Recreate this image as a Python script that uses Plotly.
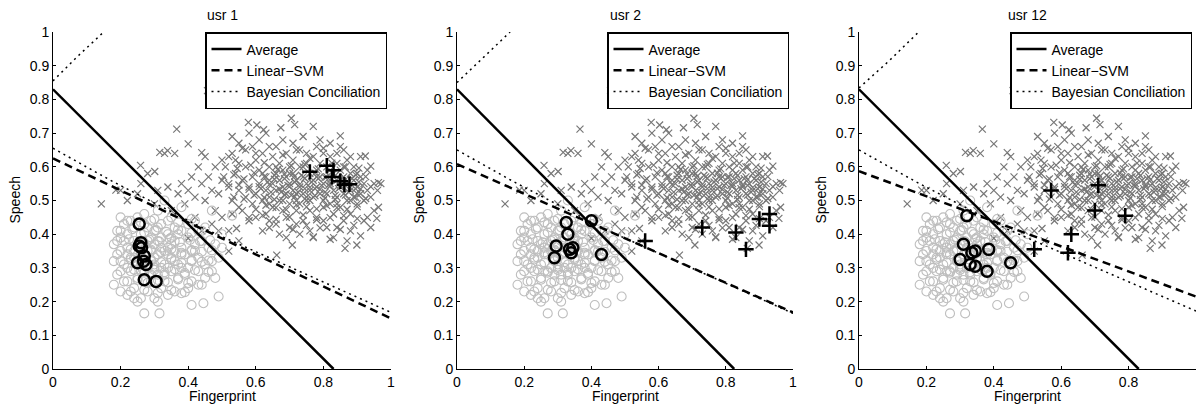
import plotly.graph_objects as go

# ---------------- data ----------------
users = ["usr 1", "usr 2", "usr 12"]

# impostor cloud (gray x) shared by all panels
imp_x = [0.457, 0.756, 0.793, 0.366, 0.578, 0.603, 0.623, 0.674, 0.705, 0.715, 0.77, 0.143, 0.259, 0.301,
         0.316, 0.339, 0.4, 0.44, 0.186, 0.958, 0.963, 0.963, 0.899, 0.864, 0.708, 0.662, 0.77, 0.543, 0.4,
         0.85, 0.924,
         0.36, 0.33, 0.34, 0.37, 0.38, 0.39, 0.4, 0.41, 0.42, 0.43, 0.44, 0.45, 0.46, 0.47, 0.48, 0.45, 0.48,
         0.49, 0.5, 0.5, 0.5, 0.31, 0.28, 0.26, 0.2, 0.22, 0.25, 0.3, 0.35, 0.42, 0.44, 0.47, 0.52, 0.55, 0.52,
         0.49, 0.53, 0.55, 0.58, 0.53,
         0.52, 0.53, 0.54, 0.55, 0.55, 0.56, 0.56, 0.57, 0.57, 0.58, 0.58, 0.59, 0.59, 0.6, 0.6, 0.6, 0.53,
         0.54, 0.57, 0.59,
         0.61, 0.61, 0.62, 0.62, 0.63, 0.63, 0.63, 0.64, 0.64, 0.65, 0.65, 0.65, 0.66, 0.66, 0.66, 0.67, 0.67,
         0.67, 0.68, 0.68, 0.68, 0.69, 0.69, 0.69, 0.7, 0.7, 0.7, 0.62, 0.64, 0.66, 0.68, 0.7, 0.61, 0.63,
         0.67, 0.69,
         0.71, 0.71, 0.71, 0.72, 0.72, 0.72, 0.73, 0.73, 0.73, 0.74, 0.74, 0.74, 0.75, 0.75, 0.75, 0.76, 0.76,
         0.76, 0.77, 0.77, 0.77, 0.78, 0.78, 0.78, 0.79, 0.79, 0.79, 0.8, 0.8, 0.8, 0.71, 0.74, 0.76, 0.78,
         0.72, 0.77, 0.75, 0.73, 0.8, 0.79,
         0.81, 0.81, 0.81, 0.82, 0.82, 0.82, 0.83, 0.83, 0.83, 0.84, 0.84, 0.84, 0.85, 0.85, 0.85, 0.86, 0.86,
         0.86, 0.87, 0.87, 0.87, 0.88, 0.88, 0.88, 0.89, 0.89, 0.89, 0.9, 0.9, 0.9, 0.82, 0.84, 0.86, 0.88,
         0.83, 0.85, 0.87, 0.81,
         0.91, 0.91, 0.92, 0.92, 0.92, 0.93, 0.93, 0.94, 0.95, 0.95, 0.96, 0.97, 0.91, 0.93, 0.94,
         0.615, 0.635, 0.645, 0.655, 0.675, 0.685, 0.695, 0.705, 0.715, 0.725, 0.735, 0.745, 0.755, 0.765,
         0.775, 0.785, 0.795, 0.805, 0.815, 0.825, 0.835, 0.845, 0.855, 0.865, 0.875, 0.885, 0.895, 0.905,
         0.62, 0.66, 0.7, 0.74, 0.78, 0.82, 0.86, 0.9, 0.64, 0.68, 0.72, 0.76, 0.8, 0.84, 0.88,
         0.52, 0.56, 0.6, 0.64, 0.68, 0.72, 0.76, 0.8, 0.84, 0.88,
         0.51, 0.545, 0.585, 0.625, 0.665, 0.705, 0.745, 0.785, 0.825, 0.865, 0.905, 0.94,
         0.505, 0.535, 0.565, 0.595, 0.625, 0.655, 0.685, 0.715, 0.745, 0.775, 0.805, 0.835, 0.865, 0.895, 0.925,
         0.52, 0.55, 0.58, 0.61, 0.64, 0.67, 0.7, 0.73, 0.76, 0.79, 0.82, 0.85, 0.88, 0.91, 0.94,
         0.535, 0.565, 0.595, 0.625, 0.655, 0.685, 0.715, 0.745, 0.775, 0.805, 0.835, 0.865, 0.895, 0.925,
         0.55, 0.6, 0.63, 0.66, 0.69, 0.72, 0.75, 0.78, 0.81, 0.84, 0.87, 0.9,
         0.58, 0.62, 0.66, 0.7, 0.74, 0.78, 0.82, 0.86, 0.9,
         0.64, 0.71, 0.75, 0.79, 0.85, 0.89,
         0.69, 0.73, 0.82, 0.91]
imp_y = [0.826, 0.826, 0.794, 0.712, 0.732, 0.724, 0.71, 0.716, 0.744, 0.725, 0.72, 0.49, 0.604, 0.586,
         0.643, 0.648, 0.668, 0.642, 0.531, 0.447, 0.48, 0.553, 0.368, 0.358, 0.368, 0.338, 0.392, 0.417, 0.388,
         0.692, 0.632,
         0.64, 0.64, 0.54, 0.52, 0.55, 0.49, 0.53, 0.57, 0.51, 0.6, 0.55, 0.5, 0.57, 0.53, 0.6, 0.63, 0.47,
         0.52, 0.56, 0.62, 0.45, 0.53, 0.58, 0.55, 0.53, 0.5, 0.52, 0.49, 0.47, 0.45, 0.41, 0.43, 0.35, 0.38,
         0.41, 0.41, 0.64, 0.67, 0.7, 0.69,
         0.55, 0.5, 0.58, 0.53, 0.61, 0.47, 0.56, 0.51, 0.6, 0.54, 0.44, 0.57, 0.49, 0.62, 0.52, 0.45, 0.46,
         0.62, 0.65, 0.66,
         0.55, 0.59, 0.5, 0.64, 0.53, 0.57, 0.46, 0.6, 0.51, 0.55, 0.48, 0.63, 0.58, 0.53, 0.43, 0.56, 0.5,
         0.61, 0.54, 0.47, 0.59, 0.52, 0.57, 0.64, 0.49, 0.55, 0.6, 0.41, 0.44, 0.66, 0.68, 0.42, 0.68, 0.7,
         0.4, 0.45,
         0.53, 0.58, 0.62, 0.5, 0.56, 0.47, 0.54, 0.6, 0.65, 0.52, 0.57, 0.44, 0.55, 0.5, 0.61, 0.53, 0.58,
         0.47, 0.56, 0.51, 0.63, 0.54, 0.59, 0.45, 0.52, 0.57, 0.61, 0.55, 0.5, 0.64, 0.67, 0.69, 0.41, 0.66,
         0.43, 0.39, 0.64, 0.49, 0.44, 0.68,
         0.57, 0.52, 0.6, 0.55, 0.49, 0.63, 0.53, 0.58, 0.46, 0.56, 0.51, 0.61, 0.54, 0.59, 0.48, 0.52, 0.57,
         0.44, 0.55, 0.5, 0.62, 0.53, 0.58, 0.46, 0.56, 0.51, 0.6, 0.54, 0.49, 0.58, 0.67, 0.42, 0.65, 0.41,
         0.39, 0.66, 0.38, 0.42,
         0.52, 0.57, 0.55, 0.5, 0.44, 0.53, 0.59, 0.51, 0.55, 0.47, 0.53, 0.55, 0.63, 0.45, 0.42,
         0.535, 0.555, 0.525, 0.575, 0.525, 0.565, 0.545, 0.515, 0.555, 0.525, 0.575, 0.535, 0.515, 0.555,
         0.535, 0.565, 0.545, 0.525, 0.545, 0.565, 0.515, 0.535, 0.565, 0.545, 0.525, 0.565, 0.535, 0.555,
         0.58, 0.6, 0.58, 0.6, 0.57, 0.59, 0.6, 0.52, 0.49, 0.5, 0.52, 0.5, 0.48, 0.49, 0.5,
         0.63, 0.655, 0.64, 0.66, 0.635, 0.65, 0.625, 0.655, 0.64, 0.63,
         0.6, 0.595, 0.605, 0.612, 0.592, 0.603, 0.607, 0.594, 0.611, 0.6, 0.596, 0.602,
         0.57, 0.576, 0.564, 0.582, 0.571, 0.563, 0.579, 0.572, 0.566, 0.581, 0.569, 0.574, 0.562, 0.577, 0.571,
         0.54, 0.546, 0.533, 0.541, 0.547, 0.534, 0.542, 0.548, 0.539, 0.533, 0.543, 0.546, 0.538, 0.534, 0.541,
         0.51, 0.504, 0.516, 0.509, 0.503, 0.517, 0.511, 0.505, 0.514, 0.508, 0.503, 0.516, 0.51, 0.506,
         0.48, 0.474, 0.486, 0.479, 0.473, 0.487, 0.481, 0.475, 0.485, 0.479, 0.474, 0.482,
         0.45, 0.456, 0.444, 0.451, 0.457, 0.443, 0.449, 0.455, 0.446,
         0.42, 0.414, 0.426, 0.419, 0.414, 0.426,
         0.39, 0.4, 0.385, 0.395]

# genuine cloud (light gray circles) shared by all panels
gen_x = [0.2, 0.23, 0.27, 0.31, 0.35, 0.38, 0.33, 0.42, 0.29, 0.25,
         0.19, 0.21, 0.24, 0.26, 0.28, 0.3, 0.32, 0.34, 0.36, 0.38, 0.4, 0.43, 0.45, 0.22,
         0.18, 0.2, 0.22, 0.24, 0.26, 0.28, 0.3, 0.32, 0.34, 0.36, 0.38, 0.4, 0.42, 0.44, 0.46, 0.48, 0.21,
         0.29, 0.35, 0.41,
         0.18, 0.19, 0.21, 0.23, 0.25, 0.27, 0.29, 0.31, 0.33, 0.35, 0.37, 0.39, 0.41, 0.43, 0.45, 0.47, 0.49,
         0.24, 0.32, 0.36,
         0.19, 0.21, 0.23, 0.25, 0.27, 0.29, 0.31, 0.33, 0.35, 0.37, 0.39, 0.41, 0.43, 0.45, 0.47, 0.22, 0.3,
         0.38,
         0.2, 0.22, 0.24, 0.26, 0.28, 0.3, 0.32, 0.34, 0.36, 0.38, 0.4, 0.43, 0.25, 0.31, 0.18, 0.24,
         0.27, 0.315, 0.41, 0.445, 0.49, 0.53, 0.47, 0.5, 0.5, 0.48, 0.44,
         0.26, 0.28, 0.3, 0.32, 0.34, 0.27, 0.31, 0.33, 0.29, 0.35, 0.3, 0.28, 0.26, 0.34, 0.36, 0.38, 0.24,
         0.22, 0.33, 0.29, 0.37, 0.31, 0.27, 0.25, 0.4, 0.42,
         0.22, 0.26, 0.3, 0.34, 0.37, 0.41,
         0.2, 0.235, 0.27, 0.305, 0.335, 0.37, 0.41, 0.44,
         0.19, 0.225, 0.255, 0.285, 0.315, 0.345, 0.375, 0.405, 0.435, 0.465,
         0.2, 0.23, 0.26, 0.29, 0.32, 0.35, 0.38, 0.41, 0.44, 0.47,
         0.2, 0.23, 0.26, 0.29, 0.32, 0.35, 0.38, 0.41, 0.44, 0.46,
         0.2, 0.24, 0.27, 0.3, 0.33, 0.36, 0.39, 0.42, 0.46,
         0.22, 0.25, 0.28, 0.31, 0.34, 0.37, 0.4,
         0.23, 0.27, 0.31, 0.35, 0.39]
gen_y = [0.45, 0.44, 0.46, 0.47, 0.45, 0.48, 0.5, 0.44, 0.44, 0.45,
         0.41, 0.43, 0.42, 0.4, 0.42, 0.41, 0.43, 0.4, 0.42, 0.41, 0.43, 0.41, 0.42, 0.4,
         0.37, 0.39, 0.36, 0.38, 0.36, 0.38, 0.37, 0.39, 0.36, 0.38, 0.36, 0.39, 0.37, 0.38, 0.36, 0.37, 0.38,
         0.35, 0.39, 0.35,
         0.32, 0.34, 0.31, 0.33, 0.31, 0.34, 0.32, 0.34, 0.31, 0.33, 0.31, 0.34, 0.32, 0.33, 0.31, 0.32, 0.33,
         0.35, 0.3, 0.35,
         0.28, 0.26, 0.29, 0.27, 0.29, 0.26, 0.28, 0.26, 0.29, 0.27, 0.28, 0.26, 0.29, 0.27, 0.29, 0.3, 0.3,
         0.3,
         0.23, 0.22, 0.24, 0.21, 0.23, 0.21, 0.24, 0.22, 0.23, 0.225, 0.24, 0.25, 0.2, 0.2, 0.25, 0.21,
         0.165, 0.165, 0.19, 0.195, 0.215, 0.455, 0.47, 0.4, 0.36, 0.27, 0.25,
         0.34, 0.35, 0.33, 0.36, 0.34, 0.37, 0.38, 0.35, 0.39, 0.37, 0.31, 0.3, 0.29, 0.3, 0.32, 0.34, 0.33,
         0.34, 0.28, 0.28, 0.4, 0.42, 0.43, 0.37, 0.3, 0.35,
         0.44, 0.435, 0.445, 0.44, 0.435, 0.445,
         0.41, 0.415, 0.405, 0.412, 0.407, 0.414, 0.404, 0.41,
         0.38, 0.385, 0.376, 0.384, 0.378, 0.386, 0.377, 0.383, 0.379, 0.382,
         0.35, 0.355, 0.346, 0.354, 0.347, 0.356, 0.345, 0.353, 0.348, 0.352,
         0.32, 0.325, 0.316, 0.324, 0.317, 0.326, 0.315, 0.323, 0.318, 0.322,
         0.29, 0.295, 0.286, 0.294, 0.287, 0.296, 0.285, 0.293, 0.288,
         0.26, 0.265, 0.256, 0.264, 0.257, 0.266, 0.255,
         0.23, 0.235, 0.226, 0.234, 0.228]

# per-user test samples
user_circ_x = [[0.255, 0.26, 0.255, 0.262, 0.27, 0.25, 0.268, 0.275, 0.27, 0.305],
               [0.325, 0.4, 0.33, 0.295, 0.335, 0.345, 0.34, 0.29, 0.43],
               [0.32, 0.31, 0.335, 0.345, 0.3, 0.33, 0.345, 0.385, 0.38, 0.45]]
user_circ_y = [[0.43, 0.375, 0.365, 0.36, 0.335, 0.315, 0.32, 0.31, 0.265, 0.26],
               [0.435, 0.44, 0.4, 0.365, 0.355, 0.36, 0.345, 0.33, 0.34],
               [0.455, 0.37, 0.345, 0.35, 0.325, 0.31, 0.305, 0.355, 0.29, 0.315]]
user_plus_x = [[0.76, 0.81, 0.83, 0.825, 0.85, 0.862, 0.877],
               [0.56, 0.73, 0.83, 0.86, 0.9, 0.93, 0.93],
               [0.57, 0.71, 0.70, 0.79, 0.63, 0.52, 0.62]]
user_plus_y = [[0.585, 0.603, 0.59, 0.57, 0.557, 0.547, 0.548],
               [0.38, 0.42, 0.405, 0.355, 0.445, 0.46, 0.425],
               [0.53, 0.545, 0.47, 0.455, 0.4, 0.355, 0.345]]

# decision boundaries
avg_x = [[0, 0.83], [0, 0.825], [0, 0.83]]
avg_y = [[0.83, 0], [0.83, 0], [0.83, 0]]
svm_x = [[0, 1], [0, 1], [0, 1]]
svm_y = [[0.625, 0.15], [0.608, 0.168], [0.587, 0.215]]
bay_lo_x = [[0, 0.17, 0.44, 1.0], [0, 0.17, 0.44, 1.0], [0, 0.17, 0.44, 1.0]]
bay_lo_y = [[0.655, 0.56, 0.42, 0.168], [0.65, 0.555, 0.415, 0.165], [0.65, 0.555, 0.415, 0.172]]
bay_hi_x = [[0, 0.07, 0.15], [0, 0.08, 0.158], [0, 0.09, 0.177]]
bay_hi_y = [[0.855, 0.925, 1.0], [0.85, 0.925, 1.0], [0.834, 0.915, 1.0]]

y_ticks = [0, 0.1, 0.2, 0.3, 0.4, 0.5, 0.6, 0.7, 0.8, 0.9, 1]
y_tick_text = ["0", "0.1", "0.2", "0.3", "0.4", "0.5", "0.6", "0.7", "0.8", "0.9", "1"]
x_ticks = [0, 0.2, 0.4, 0.6, 0.8, 1]
x_tick_text = ["0", "0.2", "0.4", "0.6", "0.8", "1"]

# ---------------- figure ----------------
W, H = 1197, 407
FONT = "Liberation Sans, Arial, Helvetica, sans-serif"
FS = 14
px_left = [53, 457, 859]
px_right = [391, 793, 1196]
py_top, py_bot = 32, 369
ydom = [(H - py_bot) / H, (H - py_top) / H]

fig = go.Figure()
annotations = []
layout_axes = {}

for i in range(3):
    sfx = "" if i == 0 else str(i + 1)
    xa, ya = "x" + sfx, "y" + sfx
    leg = "legend" if i == 0 else "legend" + str(i + 1)

    fig.add_trace(go.Scatter(x=imp_x, y=imp_y, mode="markers", xaxis=xa, yaxis=ya, showlegend=False,
                             marker=dict(symbol="x-thin", size=7, line=dict(color="#777777", width=1.2)),
                             hoverinfo="skip"))
    fig.add_trace(go.Scatter(x=gen_x, y=gen_y, mode="markers", xaxis=xa, yaxis=ya, showlegend=False,
                             marker=dict(symbol="circle-open", size=9, color="#bebebe",
                                         line=dict(color="#bebebe", width=1.1)),
                             hoverinfo="skip"))
    fig.add_trace(go.Scatter(x=avg_x[i], y=avg_y[i], mode="lines", name="Average", xaxis=xa, yaxis=ya,
                             legend=leg, line=dict(color="black", width=2.5)))
    fig.add_trace(go.Scatter(x=svm_x[i], y=svm_y[i], mode="lines", name="Linear\u2212SVM", xaxis=xa,
                             yaxis=ya, legend=leg, line=dict(color="black", width=2.5, dash="8px,5px")))
    fig.add_trace(go.Scatter(x=bay_lo_x[i] + [None] + bay_hi_x[i], y=bay_lo_y[i] + [None] + bay_hi_y[i],
                             mode="lines", name="Bayesian Conciliation", xaxis=xa, yaxis=ya, legend=leg,
                             line=dict(color="black", width=1.5, dash="2px,4px")))
    fig.add_trace(go.Scatter(x=user_circ_x[i], y=user_circ_y[i], mode="markers", xaxis=xa, yaxis=ya,
                             showlegend=False,
                             marker=dict(symbol="circle-open", size=11, color="black",
                                         line=dict(color="black", width=2.5))))
    fig.add_trace(go.Scatter(x=user_plus_x[i], y=user_plus_y[i], mode="markers", xaxis=xa, yaxis=ya,
                             showlegend=False,
                             marker=dict(symbol="cross-thin", size=11,
                                         line=dict(color="black", width=2.5))))

    xdom = [px_left[i] / W, px_right[i] / W]
    axis_common = dict(range=[0, 1], showline=True, linecolor="black", linewidth=1, ticks="inside",
                       ticklen=3, tickcolor="black", showgrid=False, zeroline=False, mirror=False,
                       tickfont=dict(family=FONT, size=FS, color="black"), automargin=False,
                       fixedrange=True)
    layout_axes["xaxis" + sfx] = dict(axis_common, domain=xdom, anchor=ya, tickvals=x_ticks,
                                      ticktext=x_tick_text)
    layout_axes["yaxis" + sfx] = dict(axis_common, domain=ydom, anchor=xa, tickvals=y_ticks,
                                      ticktext=y_tick_text)

    cx = (px_left[i] + px_right[i]) / 2 / W
    annotations.append(dict(text=users[i], x=cx, y=1 - 15 / H, xref="paper", yref="paper",
                            showarrow=False, font=dict(family=FONT, size=FS, color="black"),
                            xanchor="center", yanchor="middle"))
    annotations.append(dict(text="Fingerprint", x=cx, y=1 - 396 / H, xref="paper", yref="paper",
                            showarrow=False, font=dict(family=FONT, size=FS, color="black"),
                            xanchor="center", yanchor="middle", borderpad=0))
    annotations.append(dict(text="Speech", x=(px_left[i] - 39) / W, y=sum(ydom) / 2, xref="paper",
                            yref="paper", textangle=-90, showarrow=False,
                            font=dict(family=FONT, size=FS, color="black"),
                            xanchor="center", yanchor="middle"))

    layout_axes[leg] = dict(x=(px_right[i] - 4) / W, xanchor="right", y=ydom[1], yanchor="top",
                            bgcolor="white", bordercolor="black", borderwidth=1.5,
                            font=dict(family=FONT, size=FS, color="black"),
                            itemwidth=30, tracegroupgap=0)

fig.update_layout(width=W, height=H, margin=dict(l=0, r=0, t=0, b=0),
                  paper_bgcolor="white", plot_bgcolor="white", annotations=annotations,
                  **layout_axes)

fig.write_html("out.html", config={"displayModeBar": False},
               post_script="document.body.style.margin='0px';document.body.style.overflow='hidden';")
